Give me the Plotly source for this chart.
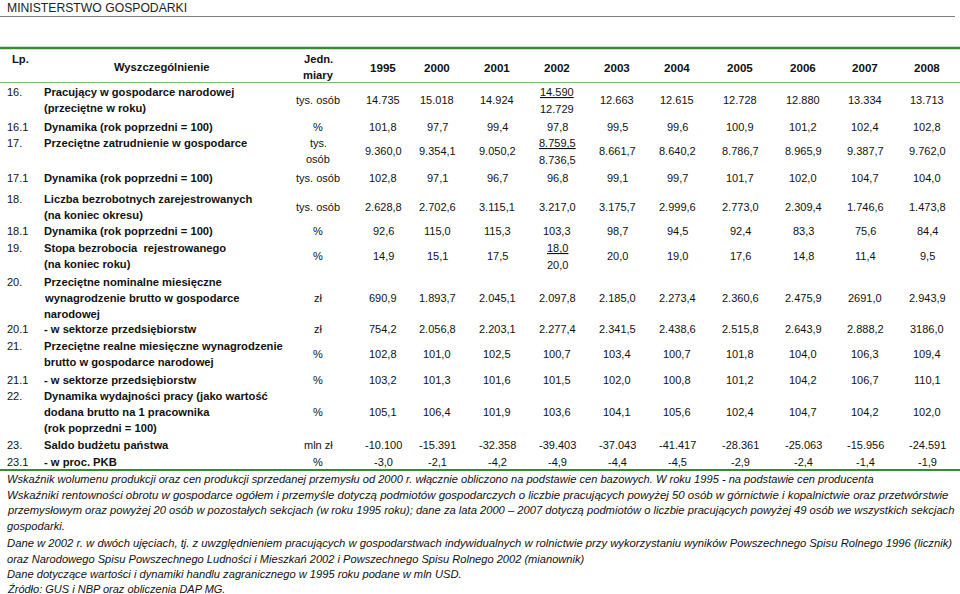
import plotly.graph_objects as go

# ---------------- data ----------------
years = ["1995", "2000", "2001", "2002", "2003", "2004", "2005", "2006", "2007", "2008"]

row_ids = ["16.", "16.1", "17.", "17.1", "18.", "18.1", "19.", "20.", "20.1", "21.", "21.1", "22.", "23.", "23.1"]
row_labels = [
    ["Pracujący w gospodarce narodowej", "(przeciętne w roku)"],
    ["Dynamika (rok poprzedni = 100)"],
    ["Przeciętne zatrudnienie w gospodarce"],
    ["Dynamika (rok poprzedni = 100)"],
    ["Liczba bezrobotnych zarejestrowanych", "(na koniec okresu)"],
    ["Dynamika (rok poprzedni = 100)"],
    ["Stopa bezrobocia  rejestrowanego", "(na koniec roku)"],
    ["Przeciętne nominalne miesięczne", "wynagrodzenie brutto w gospodarce", "narodowej"],
    ["- w sektorze przedsiębiorstw"],
    ["Przeciętne realne miesięczne wynagrodzenie", "brutto w gospodarce narodowej"],
    ["- w sektorze przedsiębiorstw"],
    ["Dynamika wydajności pracy (jako wartość", "dodana brutto na 1 pracownika", "(rok poprzedni = 100)"],
    ["Saldo budżetu państwa"],
    ["- w proc. PKB"],
]
row_units = [["tys. osób"], ["%"], ["tys.", "osób"], ["tys. osób"], ["tys. osób"], ["%"], ["%"],
             ["zł"], ["zł"], ["%"], ["%"], ["%"], ["mln zł"], ["%"]]

v16 = ["14.735", "15.018", "14.924", ("14.590", "12.729"), "12.663", "12.615", "12.728", "12.880", "13.334", "13.713"]
v16_1 = ["101,8", "97,7", "99,4", "97,8", "99,5", "99,6", "100,9", "101,2", "102,4", "102,8"]
v17 = ["9.360,0", "9.354,1", "9.050,2", ("8.759,5", "8.736,5"), "8.661,7", "8.640,2", "8.786,7", "8.965,9", "9.387,7", "9.762,0"]
v17_1 = ["102,8", "97,1", "96,7", "96,8", "99,1", "99,7", "101,7", "102,0", "104,7", "104,0"]
v18 = ["2.628,8", "2.702,6", "3.115,1", "3.217,0", "3.175,7", "2.999,6", "2.773,0", "2.309,4", "1.746,6", "1.473,8"]
v18_1 = ["92,6", "115,0", "115,3", "103,3", "98,7", "94,5", "92,4", "83,3", "75,6", "84,4"]
v19 = ["14,9", "15,1", "17,5", ("18,0", "20,0"), "20,0", "19,0", "17,6", "14,8", "11,4", "9,5"]
v20 = ["690,9", "1.893,7", "2.045,1", "2.097,8", "2.185,0", "2.273,4", "2.360,6", "2.475,9", "2691,0", "2.943,9"]
v20_1 = ["754,2", "2.056,8", "2.203,1", "2.277,4", "2.341,5", "2.438,6", "2.515,8", "2.643,9", "2.888,2", "3186,0"]
v21 = ["102,8", "101,0", "102,5", "100,7", "103,4", "100,7", "101,8", "104,0", "106,3", "109,4"]
v21_1 = ["103,2", "101,3", "101,6", "101,5", "102,0", "100,8", "101,2", "104,2", "106,7", "110,1"]
v22 = ["105,1", "106,4", "101,9", "103,6", "104,1", "105,6", "102,4", "104,7", "104,2", "102,0"]
v23 = ["-10.100", "-15.391", "-32.358", "-39.403", "-37.043", "-41.417", "-28.361", "-25.063", "-15.956", "-24.591"]
v23_1 = ["-3,0", "-2,1", "-4,2", "-4,9", "-4,4", "-4,5", "-2,9", "-2,4", "-1,4", "-1,9"]
row_values = [v16, v16_1, v17, v17_1, v18, v18_1, v19, v20, v20_1, v21, v21_1, v22, v23, v23_1]

title_text = "MINISTERSTWO GOSPODARKI"
header_lp = "Lp."
header_desc = "Wyszczególnienie"
header_unit = ["Jedn.", "miary"]

footnotes = [
    "Wskaźnik wolumenu produkcji oraz cen produkcji sprzedanej przemysłu od 2000 r. włącznie obliczono na podstawie cen bazowych. W roku 1995 - na podstawie cen producenta",
    "Wskaźniki rentowności obrotu w gospodarce ogółem i przemyśle dotyczą podmiotów gospodarczych o liczbie pracujących powyżej 50 osób w górnictwie i kopalnictwie oraz przetwórstwie",
    "przemysłowym oraz powyżej 20 osób w pozostałych sekcjach (w roku 1995 roku); dane za lata 2000 – 2007 dotyczą podmiotów o liczbie pracujących powyżej 49 osób we wszystkich sekcjach",
    "gospodarki.",
    "Dane w 2002 r. w dwóch ujęciach, tj. z uwzględnieniem pracujących w gospodarstwach indywidualnych w rolnictwie przy wykorzystaniu wyników Powszechnego Spisu Rolnego 1996 (licznik)",
    "oraz Narodowego Spisu Powszechnego Ludności i Mieszkań 2002 i Powszechnego Spisu Rolnego 2002 (mianownik)",
    "Dane dotyczące wartości i dynamiki handlu zagranicznego w 1995 roku podane w mln USD.",
    "Źródło: GUS i NBP oraz obliczenia DAP MG.",
]

# ---------------- layout / style ----------------
W, H = 960, 594
FONT = "Liberation Sans, Arial, sans-serif"
FS = 11
FS_B = 11.2
BLACK = "#111111"
col_x = [383, 437, 497, 557, 617, 677, 740, 803, 865, 927]
unit_x = 318
id_x = 5
label_x = 42
line_h = 16
row_top = [92, 127, 143, 178, 199, 231, 248, 282, 329, 346, 380, 396, 445, 462]
header_y = 67
foot_y = [479, 494.5, 510, 525.5, 543, 558.5, 574, 588.5]
# per-line sizes so that each footnote line spans the same width as in the source (lines 2-3 are justified there)
foot_size = [11.1, 11.45, 11.2, 11.2, 11.28, 11.1, 11.15, 11.0]

fig = go.Figure()
fig.add_trace(go.Scatter(x=[0, W], y=[0, H], mode="markers", marker=dict(opacity=0), hoverinfo="skip", showlegend=False))

ann = []

def txt(x, y, s, anchor="center", size=FS, bold=False, italic=False, color=BLACK):
    if bold:
        s = "<b>" + s + "</b>"
    if italic:
        s = "<i>" + s + "</i>"
    ann.append(dict(x=x, y=y, xref="x", yref="y", text=s, showarrow=False,
                    xanchor=anchor, yanchor="middle",
                    font=dict(family=FONT, size=size, color=color)))

# title
txt(5, 8, title_text, anchor="left", size=12.2, color="#222222")

# header
txt(10, 59, header_lp, anchor="left", bold=True, size=FS_B)
txt(162, header_y, header_desc, bold=True, size=FS_B)
txt(unit_x, 59, header_unit[0], bold=True, size=FS_B)
txt(unit_x, 75, header_unit[1], bold=True, size=FS_B)
for x, yr in zip(col_x, years):
    txt(x, header_y, yr, bold=True, size=11.6)

# rows
for rid, labels, units, vals, top in zip(row_ids, row_labels, row_units, row_values, row_top):
    n = len(labels)
    mid = top + (n - 1) * line_h / 2 if n > 1 else top
    if len(units) > 1:
        mid = top + line_h / 2
    txt(id_x, top, rid, anchor="left")
    for i, lab in enumerate(labels):
        txt(label_x, top + i * line_h, lab, anchor="left", bold=True, size=FS_B)
    if len(units) == 1:
        txt(unit_x, mid, units[0])
    else:
        for i, u in enumerate(units):
            txt(unit_x, top + i * line_h, u)
    for x, v in zip(col_x, vals):
        if isinstance(v, tuple):
            txt(x, mid - 8, "<u>" + v[0] + "</u>")
            txt(x, mid + 9, v[1])
        else:
            txt(x, mid, v)

# footnotes
for f, y, fs in zip(footnotes, foot_y, foot_size):
    txt(5, y, f, anchor="left", italic=True, size=fs)

shapes = [
    dict(type="line", xref="x", yref="y", x0=0, x1=955, y0=16.5, y1=16.5, line=dict(color="#7f7f7f", width=1)),
    dict(type="line", xref="x", yref="y", x0=0, x1=960, y0=48, y1=48, line=dict(color="#3a8a35", width=2.5)),
    dict(type="line", xref="x", yref="y", x0=0, x1=960, y0=82.5, y1=82.5, line=dict(color="#7fb87a", width=1)),
    dict(type="line", xref="x", yref="y", x0=0, x1=960, y0=470, y1=470, line=dict(color="#3a8a35", width=2)),
]

fig.update_layout(
    width=W, height=H,
    margin=dict(l=0, r=0, t=0, b=0),
    paper_bgcolor="white", plot_bgcolor="white",
    xaxis=dict(range=[0, W], visible=False, fixedrange=True),
    yaxis=dict(range=[H, 0], visible=False, fixedrange=True),
    annotations=ann, shapes=shapes, showlegend=False,
)
fig.write_html("out.html", config={"displayModeBar": False},
               post_script="document.body.style.margin='0';document.body.style.overflow='hidden';")
